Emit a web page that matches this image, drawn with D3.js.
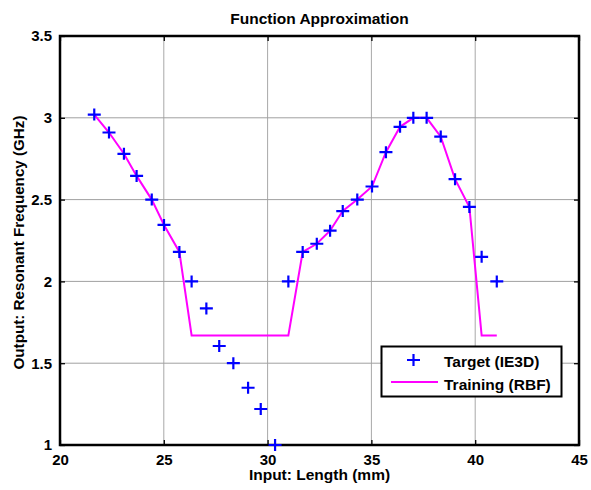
<!DOCTYPE html>
<html>
<head>
<meta charset="utf-8">
<script src="https://cdn.jsdelivr.net/npm/d3@7"></script>
<style>
  body { margin: 0; background: #fff; }
  text { font-family: Arial, "Liberation Sans", sans-serif; font-weight: bold; fill: #000; }
</style>
</head>
<body>
<svg id="chart" width="591" height="490"></svg>
<script>
// values
let lengthMm = [21.65, 22.36, 23.08, 23.69, 24.42, 25.01, 25.75, 26.34, 27.05, 27.67,
	28.35, 29.06, 29.67, 30.36, 31.0, 31.69, 32.37, 33.01, 33.62, 34.32,
	35.03, 35.70, 36.38, 37.02, 37.66, 38.34, 39.03, 39.72, 40.31, 41.04];
let targetGHz = [3.02, 2.91, 2.78, 2.645, 2.50, 2.345, 2.18, 2.0, 1.835, 1.605,
	1.50, 1.35, 1.22, 1.0, 2.0, 2.18, 2.23, 2.31, 2.43, 2.50,
	2.58, 2.79, 2.945, 3.0, 3.0, 2.885, 2.625, 2.455, 2.15, 2.0];
let rbfGHz = [3.02, 2.91, 2.78, 2.645, 2.50, 2.345, 2.18, 1.67, 1.67, 1.67,
	1.67, 1.67, 1.67, 1.67, 1.67, 2.18, 2.23, 2.31, 2.43, 2.50,
	2.58, 2.79, 2.945, 3.0, 3.0, 2.885, 2.625, 2.455, 1.67, 1.67];
let xTicks = [20, 25, 30, 35, 40, 45];
let yTicks = [1, 1.5, 2, 2.5, 3, 3.5];
let legendLabels = ['Target (IE3D)', 'Training (RBF)'];

let svg = d3.select('#chart');
let pLeft = 60, pRight = 579, pTop = 36, pBottom = 445;

let x = d3.scaleLinear().domain([20, 45]).range([pLeft, pRight]);
let y = d3.scaleLinear().domain([1, 3.5]).range([pBottom, pTop]);

// grid
svg.append('g').selectAll('line')
	.data(xTicks.slice(1, -1))
	.enter().append('line')
	.attr('x1', d => x(d)).attr('x2', d => x(d))
	.attr('y1', pTop).attr('y2', pBottom)
	.style('stroke', '#a8a8a8').style('stroke-width', 1);
svg.append('g').selectAll('line')
	.data(yTicks.slice(1, -1))
	.enter().append('line')
	.attr('x1', pLeft).attr('x2', pRight)
	.attr('y1', d => y(d)).attr('y2', d => y(d))
	.style('stroke', '#a0a0a0').style('stroke-width', 1);

// axes, ticks inside
let xAxis = svg.append('g').attr('transform', 'translate(0,' + pBottom + ')')
	.call(d3.axisBottom(x).tickValues(xTicks).tickSize(-5).tickPadding(9).tickFormat(d3.format('d')));
let yAxis = svg.append('g').attr('transform', 'translate(' + pLeft + ',0)')
	.call(d3.axisLeft(y).tickValues(yTicks).tickSize(-5).tickPadding(8).tickFormat(d => d));
let xTop = svg.append('g').attr('transform', 'translate(0,' + pTop + ')')
	.call(d3.axisTop(x).tickValues(xTicks).tickSize(-5).tickFormat(''));
let yRight = svg.append('g').attr('transform', 'translate(' + pRight + ',0)')
	.call(d3.axisRight(y).tickValues(yTicks).tickSize(-5).tickFormat(''));

[xAxis, yAxis, xTop, yRight].forEach(a => {
	a.select('.domain').remove();
	a.selectAll('.tick line').style('stroke', '#000').style('stroke-width', 1.3);
	a.selectAll('text').style('font-size', '15px').style('font-family', 'Arial, "Liberation Sans", sans-serif').style('font-weight', 'bold');
});
xAxis.selectAll('text').attr('dy', '0.71em');

// frame
svg.append('rect')
	.attr('x', pLeft).attr('y', pTop)
	.attr('width', pRight - pLeft).attr('height', pBottom - pTop)
	.style('fill', 'none').style('stroke', '#000').style('stroke-width', 2.5);

// RBF line
let line = d3.line().x((d, i) => x(lengthMm[i])).y(d => y(d));
svg.append('path')
	.datum(rbfGHz)
	.attr('d', line)
	.style('fill', 'none').style('stroke', '#ff00ff').style('stroke-width', 2);

// target markers
function drawPlus(sel, cx, cy) {
	sel.append('path')
		.attr('d', 'M' + (cx - 6.5) + ',' + cy + 'H' + (cx + 6.5) + 'M' + cx + ',' + (cy - 6) + 'V' + (cy + 6))
		.style('stroke', '#0000ff').style('stroke-width', 2.2).style('fill', 'none');
}
let markers = svg.append('g');
targetGHz.forEach((d, i) => drawPlus(markers, x(lengthMm[i]), y(d)));

// title and labels
svg.append('text').attr('x', (pLeft + pRight) / 2).attr('y', 24)
	.attr('text-anchor', 'middle').style('font-size', '15.5px')
	.text('Function Approximation');
svg.append('text').attr('x', (pLeft + pRight) / 2).attr('y', 480)
	.attr('text-anchor', 'middle').style('font-size', '15.5px')
	.text('Input: Length (mm)');
svg.append('text')
	.attr('transform', 'translate(24,' + 242.5 + ') rotate(-90)')
	.attr('text-anchor', 'middle').style('font-size', '15.2px')
	.text('Output: Resonant Frequency (GHz)');

// legend
let lg = svg.append('g');
lg.append('rect').attr('x', 381.5).attr('y', 346.5).attr('width', 180).attr('height', 50)
	.style('fill', '#fff').style('stroke', '#000').style('stroke-width', 2);
drawPlus(lg, 413.5, 360);
lg.append('line').attr('x1', 391).attr('x2', 438).attr('y1', 382).attr('y2', 382)
	.style('stroke', '#ff00ff').style('stroke-width', 2);
lg.selectAll('.lbl').data(legendLabels).enter().append('text')
	.attr('class', 'lbl')
	.attr('x', 444).attr('y', (d, i) => 367 + i * 23)
	.style('font-size', '15.5px')
	.text(d => d);
</script>
</body>
</html>
